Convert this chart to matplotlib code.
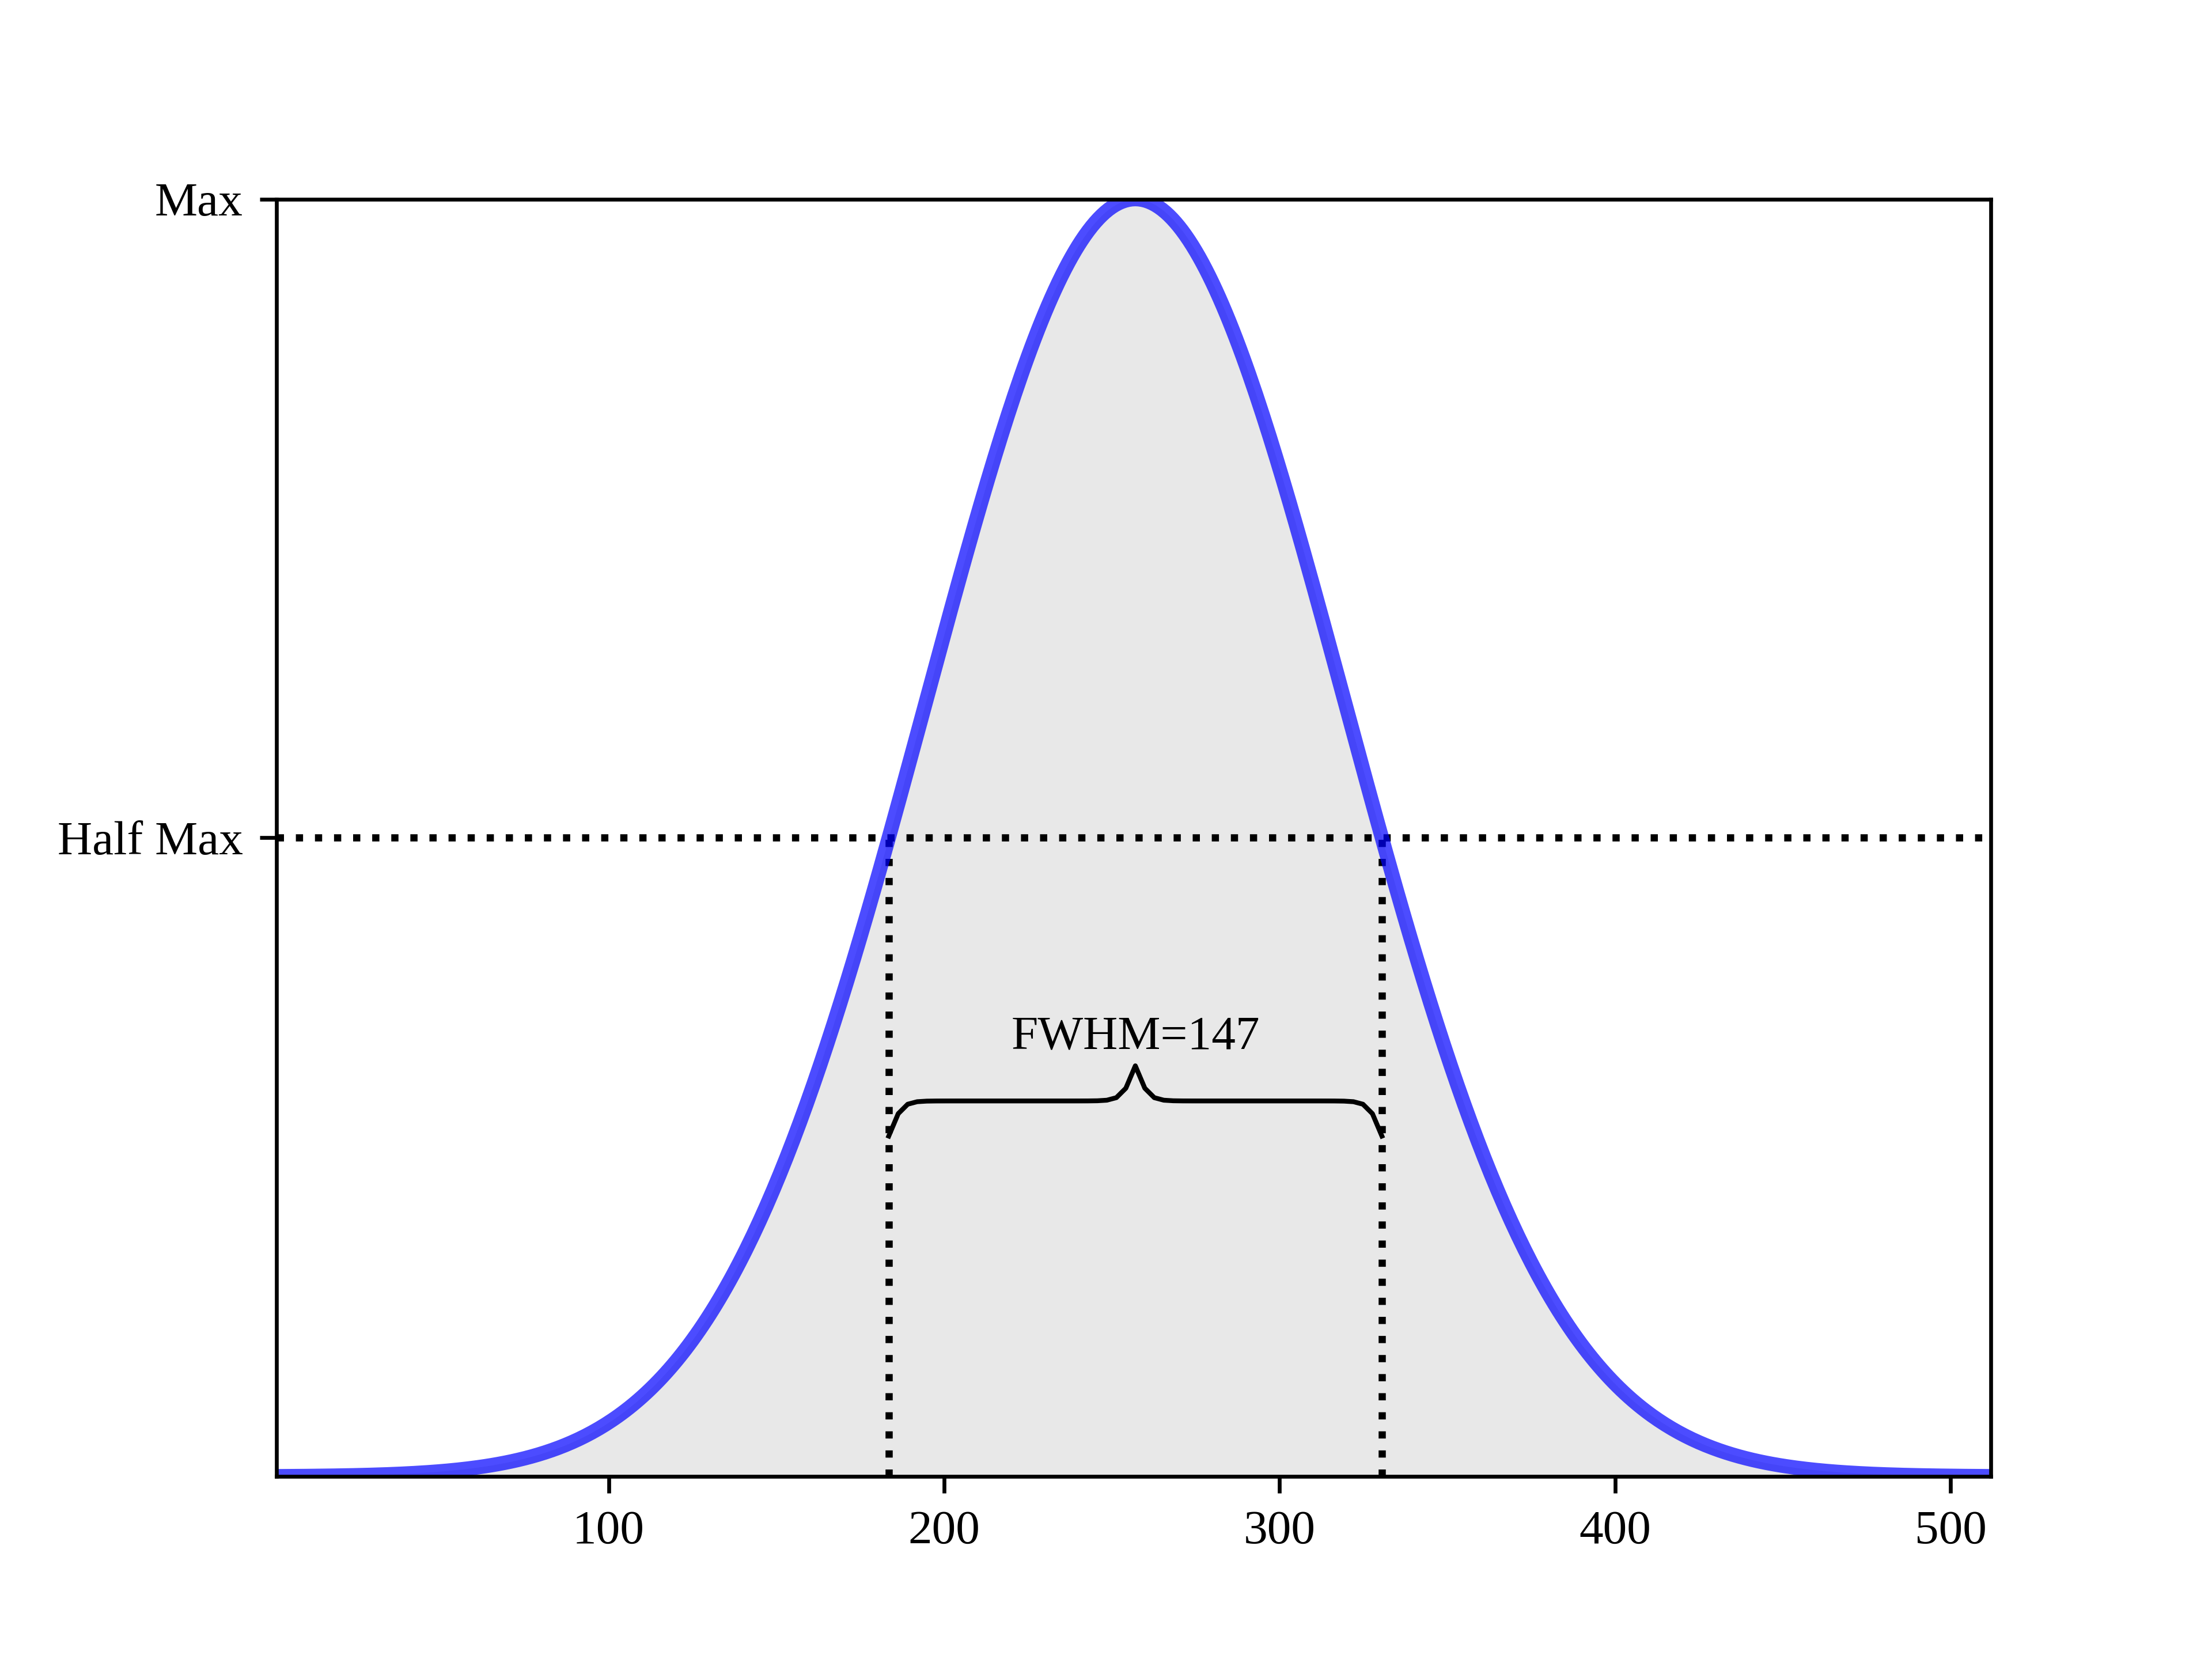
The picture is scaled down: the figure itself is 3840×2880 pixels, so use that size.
import numpy as np
import matplotlib
matplotlib.use("Agg")
import matplotlib.pyplot as plt

plt.rcParams["font.family"] = ["Liberation Serif", "DejaVu Serif"]

# curve parameters
x_start, x_stop = 1, 512
peak_center = 257.0
fwhm = 147.0
x_ticks = [100, 200, 300, 400, 500]
y_ticks = [0.5, 1.0]
y_tick_labels = ["Half Max", "Max"]
brace_label = "FWHM=147"


def draw_brace(ax, xspan, yy, text, xax_span, yspan):
    xmin, xmax = xspan
    width = xmax - xmin
    resolution = int(width / xax_span * 100) * 2 + 1
    beta = 300.0 / xax_span
    xs = np.linspace(xmin, xmax, resolution)
    x_half = xs[: resolution // 2 + 1]
    y_half = (1 / (1.0 + np.exp(-beta * (x_half - x_half[0])))
              + 1 / (1.0 + np.exp(-beta * (x_half - x_half[-1]))))
    ys = np.concatenate((y_half, y_half[-2::-1]))
    ys = yy + (0.05 * ys - 0.01) * yspan
    ax.plot(xs, ys, color="black", lw=1)
    ax.text((xmin + xmax) / 2.0, yy + 0.07 * yspan, text,
            ha="center", va="bottom", fontsize=10)


x = np.arange(x_start, x_stop + 1)
sigma = fwhm / (2 * np.sqrt(2 * np.log(2)))
y = np.exp(-0.5 * ((x - peak_center) / sigma) ** 2)
left = peak_center - fwhm / 2
right = peak_center + fwhm / 2

fig, ax = plt.subplots(figsize=(6.4, 4.8))
ax.fill_between(x, y, 0, color="lightgrey", alpha=0.5, lw=0)
ax.axhline(0.5, ls=":", color="k", lw=1.5)
ax.vlines([left, right], 0, 0.5, linestyles=":", colors="k", lw=1.5)
ax.plot(x, y, color="b", alpha=0.7, lw=3)

draw_brace(ax, (left, right), 0.25, brace_label,
           xax_span=(x_stop - x_start) * 1.1, yspan=1.1)

ax.set_xlim(x_start, x_stop)
ax.set_ylim(0, 1)
ax.set_xticks(x_ticks)
ax.set_yticks(y_ticks)
ax.set_yticklabels(y_tick_labels)

fig.savefig("out.png", dpi=600)
